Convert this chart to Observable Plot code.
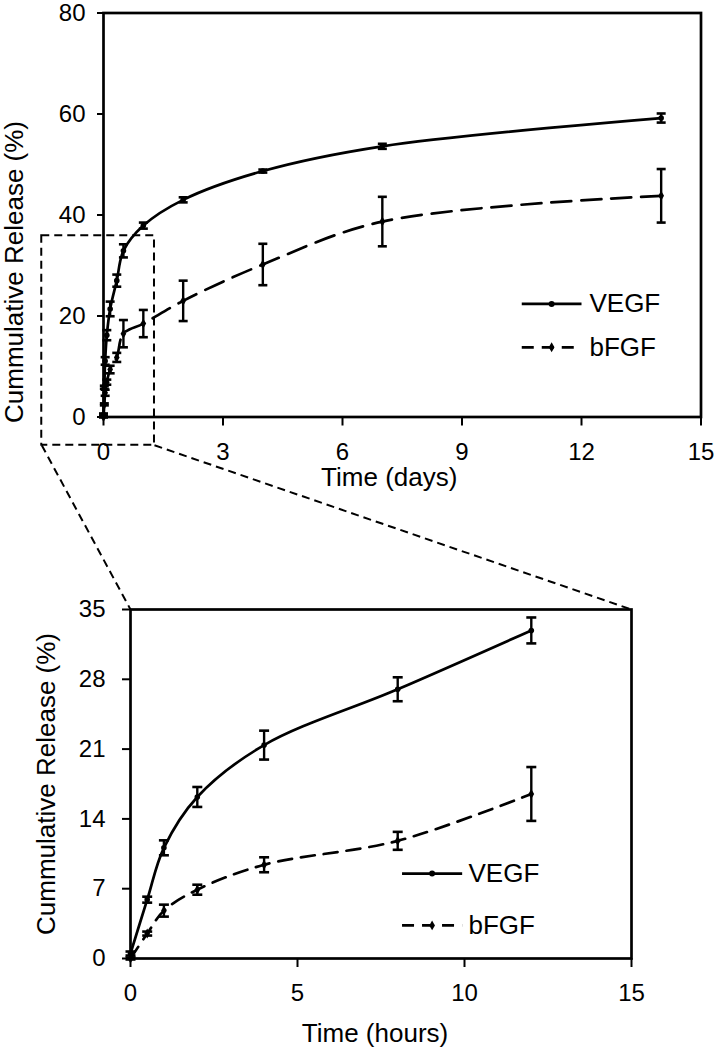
<!DOCTYPE html>
<html><head><meta charset="utf-8">
<script src="https://cdn.jsdelivr.net/npm/d3@7"></script>
<script src="https://cdn.jsdelivr.net/npm/@observablehq/plot@0.6"></script>
<style>
body{margin:0;background:#fff;}
#chart{position:relative;width:716px;height:1050px;font-family:"Liberation Sans",Arial,sans-serif;}
#chart svg{display:block;}
</style></head><body><div id="chart"></div>
<script>
// ---- data ----
const hours = [0, 0.5, 1, 2, 4, 8, 12];
const vegfHours = [0.5, 5.9, 11.1, 16.2, 21.4, 27.0, 32.9];
const vegfHoursErr = [0.2, 0.3, 0.75, 1.0, 1.45, 1.2, 1.3];
const bfgfHours = [0, 2.5, 4.8, 6.9, 9.4, 11.8, 16.5];
const bfgfHoursErr = [0.1, 0.2, 0.6, 0.5, 0.75, 0.9, 2.7];
const days = [1, 2, 4, 7, 14];
const vegfDays = [37.9, 43.0, 48.7, 53.6, 59.2];
const vegfDaysErr = [0.6, 0.5, 0.3, 0.5, 0.9];
const bfgfDays = [18.5, 23.0, 30.2, 38.7, 43.8];
const bfgfDaysErr = [2.7, 4.0, 4.1, 4.9, 5.3];
const seriesNames = ["VEGF", "bFGF"];
const topXTicks = [0, 3, 6, 9, 12, 15];
const topYTicks = [0, 20, 40, 60, 80];
const botXTicks = [0, 5, 10, 15];
const botYTicks = [0, 7, 14, 21, 28, 35];
const topXLabel = "Time (days)";
const botXLabel = "Time (hours)";
const yLabel = "Cummulative Release (%)";

// ---- layout ----
const W = 716, topH = 500, botH = 550;
const topM = {top: 12.5, right: 15.5, bottom: 83.5, left: 103};
const botM = {top: 109, right: 85, bottom: 92, left: 130};
const topXDom = [0, 15], topYDom = [0, 80], botXDom = [0, 15], botYDom = [0, 35];
const zoomBox = {x1: -1.55, x2: 1.28, y1: -5.6, y2: 35.9};
const topLegend = {x1: 10.5, x2: 12.0, tx: 12.2, ys: [22.4, 13.8]};
const botLegend = {x1: 8.13, x2: 9.93, tx: 10.12, ys: [8.52, 3.32]};

function rows(xs, ys, es) {
  return xs.map((x, i) => ({x, y: ys[i], lo: ys[i] - es[i], hi: ys[i] + es[i]}));
}
const cap = {draw(ctx, size) { const w = Math.sqrt(size / Math.PI); ctx.moveTo(-w, 0); ctx.lineTo(w, 0); }};

function panel({vegf, bfgf, xDom, yDom, xTicks, yTicks, m, width, height, dash, capR, ySize, yPad, xPad, legend, legendDash, xLabel, xLabDx, xLabDy, yLabDx, yLabDy, extra = []}) {
  const all = vegf.concat(bfgf);
  const leg = seriesNames.map((s, i) => ({s, y: legend.ys[i], x1: legend.x1, x2: legend.x2, xm: (legend.x1 + legend.x2) / 2, tx: legend.tx}));
  return Plot.plot({
    width, height,
    marginTop: m.top, marginRight: m.right, marginBottom: m.bottom, marginLeft: m.left,
    x: {domain: xDom},
    y: {domain: yDom},
    style: {fontFamily: '"Liberation Sans", Arial, sans-serif', fontSize: "24px", color: "black", background: "transparent", overflow: "visible"},
    marks: [
      ...extra,
      Plot.line(vegf, {x: "x", y: "y", curve: "catmull-rom", stroke: "black", strokeWidth: 2.7}),
      Plot.line(bfgf, {x: "x", y: "y", curve: "catmull-rom", stroke: "black", strokeWidth: 2.7, strokeDasharray: dash}),
      Plot.ruleX(all, {x: "x", y1: "lo", y2: "hi", stroke: "black", strokeWidth: 2.4}),
      Plot.dot(all, {x: "x", y: "lo", symbol: cap, r: capR, stroke: "black", strokeWidth: 2.6}),
      Plot.dot(all, {x: "x", y: "hi", symbol: cap, r: capR, stroke: "black", strokeWidth: 2.6}),
      Plot.dot(vegf, {x: "x", y: "y", r: 2.8, fill: "black", symbol: "circle"}),
      Plot.dot(bfgf, {x: "x", y: "y", r: 3, fill: "black", symbol: "diamond"}),
      // legend
      Plot.link(leg.filter(d => d.s === "VEGF"), {x1: "x1", x2: "x2", y1: "y", y2: "y", stroke: "black", strokeWidth: 2.7}),
      Plot.link(leg.filter(d => d.s === "bFGF"), {x1: "x1", x2: "x2", y1: "y", y2: "y", stroke: "black", strokeWidth: 2.7, strokeDasharray: legendDash}),
      Plot.dot(leg, {x: "xm", y: "y", r: 3, fill: "black", symbol: d => d.s === "VEGF" ? "circle" : "diamond"}),
      Plot.text(leg, {x: "tx", y: "y", text: "s", textAnchor: "start", lineAnchor: "middle", fontSize: 26, fill: "black"}),
      // axes
      Plot.axisY({ticks: yTicks, tickSize: ySize, tickPadding: yPad, fontSize: 24, strokeWidth: 2, label: null, tickFormat: d => String(d)}),
      Plot.axisX({ticks: xTicks, tickSize: 9, tickPadding: xPad, fontSize: 24, strokeWidth: 2, label: null, tickFormat: d => String(d)}),
      Plot.frame({stroke: "black", strokeWidth: 2.7}),
      Plot.text([xLabel], {frameAnchor: "bottom", textAnchor: "middle", lineAnchor: "middle", dx: xLabDx, dy: xLabDy, fontSize: 26, fill: "black"}),
      Plot.text([yLabel], {frameAnchor: "left", textAnchor: "middle", lineAnchor: "middle", rotate: -90, dx: yLabDx, dy: yLabDy, fontSize: 26, fill: "black"})
    ]
  });
}

// top-panel data in days (hourly points converted to days)
const topVegf = rows(hours.map(h => h / 24).concat(days), vegfHours.concat(vegfDays), vegfHoursErr.concat(vegfDaysErr));
const topBfgf = rows(hours.map(h => h / 24).concat(days), bfgfHours.concat(bfgfDays), bfgfHoursErr.concat(bfgfDaysErr));
const botVegf = rows(hours, vegfHours, vegfHoursErr);
const botBfgf = rows(hours, bfgfHours, bfgfHoursErr);

// connectors from zoom box to bottom panel frame corners (converted into top-panel data units)
const topInnerW = W - topM.left - topM.right, topInnerH = topH - topM.top - topM.bottom;
const toTopX = px => topXDom[0] + (px - topM.left) / topInnerW * (topXDom[1] - topXDom[0]);
const toTopY = py => topYDom[0] + (topH - topM.bottom - py) / topInnerH * (topYDom[1] - topYDom[0]);
const cornerY = toTopY(topH + botM.top);
const connectors = [
  {x1: zoomBox.x1, y1: zoomBox.y1, x2: toTopX(botM.left), y2: cornerY},
  {x1: zoomBox.x2, y1: zoomBox.y1, x2: toTopX(W - botM.right), y2: cornerY}
];

const topPlot = panel({
  vegf: topVegf, bfgf: topBfgf, xDom: topXDom, yDom: topYDom, xTicks: topXTicks, yTicks: topYTicks,
  m: topM, width: W, height: topH, dash: "20,10", capR: 4.5, ySize: 6, yPad: 12, xPad: 17,
  legend: topLegend, legendDash: "12,8", xLabel: topXLabel, xLabDx: -13, xLabDy: 61,
  yLabDx: -89, yLabDy: 57,
  extra: [
    Plot.rect([zoomBox], {x1: "x1", x2: "x2", y1: "y1", y2: "y2", fill: "none", stroke: "black", strokeWidth: 2, strokeDasharray: "8,5"}),
    Plot.link(connectors, {x1: "x1", y1: "y1", x2: "x2", y2: "y2", stroke: "black", strokeWidth: 2, strokeDasharray: "8,5"})
  ]
});
const botPlot = panel({
  vegf: botVegf, bfgf: botBfgf, xDom: botXDom, yDom: botYDom, xTicks: botXTicks, yTicks: botYTicks,
  m: botM, width: W, height: botH, dash: "14,9", capR: 5, ySize: 8, yPad: 17, xPad: 16,
  legend: botLegend, legendDash: "12,8", xLabel: botXLabel, xLabDx: -6, xLabDy: 75,
  yLabDx: -84, yLabDy: 0
});
const chart = document.getElementById("chart");
chart.appendChild(topPlot);
chart.appendChild(botPlot);
</script></body></html>
